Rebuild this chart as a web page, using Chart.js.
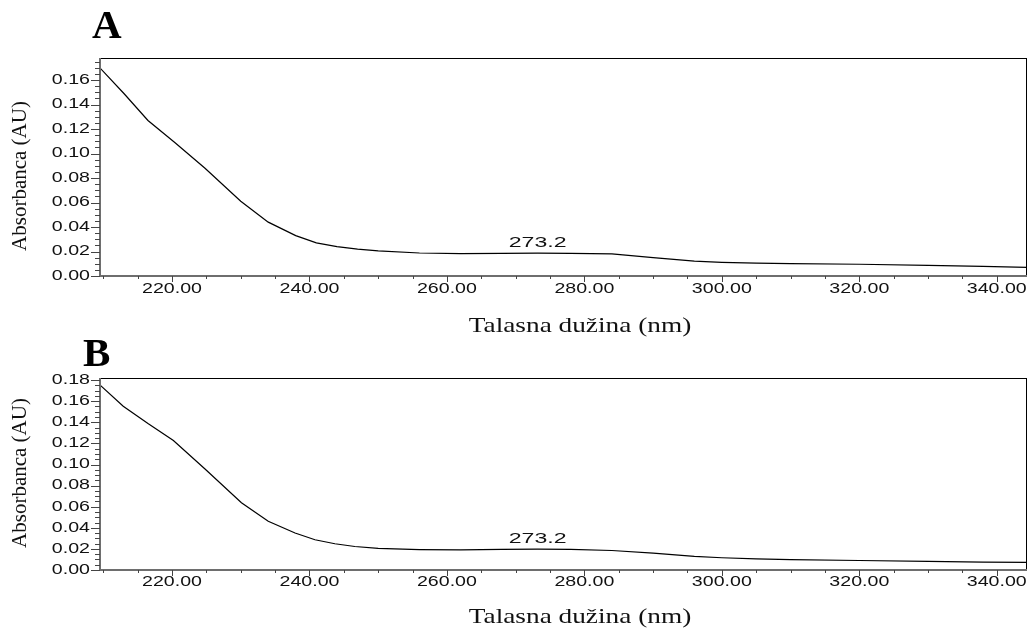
<!DOCTYPE html>
<html>
<head>
<meta charset="utf-8">
<script src="https://cdn.jsdelivr.net/npm/chart.js@4.4.1/dist/chart.umd.min.js"></script>
<style>
  body { margin: 0; background: #fff; }
  .panel { position: absolute; left: 0; }
</style>
</head>
<body>
<div class="panel" style="top:0px"><canvas id="chartA" width="1028" height="340"></canvas></div>
<div class="panel" style="top:330px"><canvas id="chartB" width="1028" height="299"></canvas></div>
<script>
// Spektar A
const talasnaA = [209.5, 213, 216.5, 220.4, 224.8, 230, 234, 238, 241, 244, 247, 250, 256, 262, 268, 273.2, 278, 284, 290, 296, 300, 305, 310, 320, 330, 338, 344.4];
const absorbA  = [0.170, 0.149, 0.127, 0.109, 0.088, 0.061, 0.044, 0.033, 0.027, 0.024, 0.022, 0.0205, 0.0188, 0.0182, 0.0184, 0.0187, 0.0185, 0.0180, 0.0150, 0.0122, 0.0112, 0.0105, 0.0101, 0.0096, 0.0087, 0.0078, 0.0071];

// Spektar B
const talasnaB = [209.5, 212.9, 216.5, 220.2, 224.8, 230.1, 234, 237.9, 240.8, 243.7, 246.6, 250, 256, 262, 268, 273.2, 278, 284, 290, 296, 300, 305, 310, 320, 330, 338, 344.4];
const absorbB  = [0.1755, 0.1553, 0.1388, 0.1228, 0.0957, 0.0638, 0.0462, 0.0351, 0.0287, 0.0249, 0.0223, 0.0205, 0.0194, 0.0191, 0.0195, 0.0198, 0.0196, 0.0185, 0.0160, 0.0130, 0.0116, 0.0105, 0.0098, 0.0090, 0.0082, 0.0075, 0.0073];

// oznaka maksimuma
const pikA = 273.2;
const pikB = 273.2;

// podeoci
const xGlavni = [220, 240, 260, 280, 300, 320, 340];
const xSporedni = [210, 215, 225, 230, 235, 245, 250, 255, 265, 270, 275, 285, 290, 295, 305, 310, 315, 325, 330, 335, 345];
const yGlavniA = [0, 0.02, 0.04, 0.06, 0.08, 0.10, 0.12, 0.14, 0.16];
const yGlavniB = [0, 0.02, 0.04, 0.06, 0.08, 0.10, 0.12, 0.14, 0.16, 0.18];
const ySporedniKorak = 0.005;

const xNaslov = 'Talasna dužina (nm)';
const yNaslov = 'Absorbanca (AU)';

function tekst(ctx, str, x, y, font, sx, align, base) {
  ctx.save();
  ctx.translate(x, y);
  ctx.scale(sx, 1);
  ctx.font = font;
  ctx.fillStyle = '#111';
  ctx.textAlign = align;
  ctx.textBaseline = base;
  ctx.fillText(str, 0, 0);
  ctx.restore();
}

// crta okvir, podeoke, natpise i oznaku pika
const osePlugin = {
  id: 'ose',
  afterDraw(chart, args, o) {
    const ctx = chart.ctx;
    const a = chart.chartArea;
    const xs = chart.scales.x, ys = chart.scales.y;

    ctx.save();
    // okvir
    ctx.strokeStyle = '#000';
    ctx.lineWidth = 1;
    ctx.strokeRect(a.left + 0.5, a.top + 0.5, a.right - a.left - 1, a.bottom - a.top);

    // ose
    ctx.strokeStyle = '#6e6e6e';
    ctx.lineWidth = 2;
    ctx.beginPath();
    ctx.moveTo(a.left, a.top);
    ctx.lineTo(a.left, a.bottom);
    ctx.lineTo(a.right, a.bottom);
    ctx.stroke();

    // x podeoci
    ctx.lineWidth = 1;
    ctx.strokeStyle = '#444';
    ctx.beginPath();
    xGlavni.forEach(v => {
      const px = Math.round(xs.getPixelForValue(v)) + 0.5;
      ctx.moveTo(px, a.bottom); ctx.lineTo(px, a.bottom + 6);
    });
    xSporedni.forEach(v => {
      const px = Math.round(xs.getPixelForValue(v)) + 0.5;
      if (px < a.left || px > a.right) return;
      ctx.moveTo(px, a.bottom); ctx.lineTo(px, a.bottom + 3);
    });
    // y podeoci
    const yMax = ys.max;
    for (let i = 0; i * ySporedniKorak <= yMax; i++) {
      const py = Math.round(ys.getPixelForValue(i * ySporedniKorak)) + 0.5;
      const duz = (i % 4 === 0) ? 9 : 5;
      ctx.moveTo(a.left - duz, py); ctx.lineTo(a.left, py);
    }
    ctx.stroke();
    ctx.restore();

    const tickFont = '14px "Liberation Sans", Arial, sans-serif';
    xGlavni.forEach(v => {
      tekst(ctx, v.toFixed(2), xs.getPixelForValue(v), a.bottom + o.xTickOdmak, tickFont, 1.4, 'center', 'middle');
    });
    o.yGlavni.forEach(v => {
      tekst(ctx, v.toFixed(2), a.left - 10, ys.getPixelForValue(v), tickFont, 1.4, 'right', 'middle');
    });

    // maksimum
    const pikY = o.pikVrednost;
    tekst(ctx, o.pik.toFixed(1), xs.getPixelForValue(o.pik), ys.getPixelForValue(pikY) - 10,
      '14px "Liberation Sans", Arial, sans-serif', 1.65, 'center', 'middle');

    // naslovi osa
    tekst(ctx, xNaslov, o.xNaslovX, o.xNaslovY, '21px "Liberation Serif", "Times New Roman", serif', 1.3, 'center', 'middle');
    ctx.save();
    ctx.translate(20, o.yNaslovY);
    ctx.rotate(-Math.PI / 2);
    ctx.font = '21px "Liberation Serif", "Times New Roman", serif';
    ctx.fillStyle = '#111';
    ctx.textAlign = 'center';
    ctx.textBaseline = 'middle';
    ctx.fillText(yNaslov, 0, 0);
    ctx.restore();

    // slovo panela
    ctx.save();
    ctx.font = 'bold 41px "Liberation Serif", "Times New Roman", serif';
    ctx.fillStyle = '#000';
    ctx.textAlign = 'left';
    ctx.textBaseline = 'alphabetic';
    ctx.fillText(o.slovo, o.slovoX, o.slovoY);
    ctx.restore();
  }
};

function napraviGrafik(id, xs, ys, yMax, padding, opcije) {
  const ctx = document.getElementById(id).getContext('2d');
  return new Chart(ctx, {
    type: 'line',
    data: {
      datasets: [{
        data: xs.map((x, i) => ({ x: x, y: ys[i] })),
        borderColor: '#000',
        borderWidth: 1.2,
        pointRadius: 0,
        tension: 0,
        fill: false
      }]
    },
    options: {
      responsive: false,
      animation: false,
      layout: { padding: padding },
      plugins: {
        legend: { display: false },
        tooltip: { enabled: false },
        ose: opcije
      },
      scales: {
        x: { type: 'linear', display: false, min: 209.52, max: 344.4 },
        y: { type: 'linear', display: false, min: 0, max: yMax }
      }
    },
    plugins: [osePlugin]
  });
}

napraviGrafik('chartA', talasnaA, absorbA, 0.178,
  { left: 100, top: 58, right: 1, bottom: 64 },
  { yGlavni: yGlavniA, pik: pikA, pikVrednost: 0.0187, xTickOdmak: 13, xNaslovX: 580, xNaslovY: 326,
    yNaslovY: 176, slovo: 'A', slovoX: 92, slovoY: 38 });

napraviGrafik('chartB', talasnaB, absorbB, 0.182,
  { left: 100, top: 48, right: 1, bottom: 59 },
  { yGlavni: yGlavniB, pik: pikB, pikVrednost: 0.0198, xTickOdmak: 12, xNaslovX: 580, xNaslovY: 287,
    yNaslovY: 143, slovo: 'B', slovoX: 83, slovoY: 36 });
</script>
</body>
</html>
